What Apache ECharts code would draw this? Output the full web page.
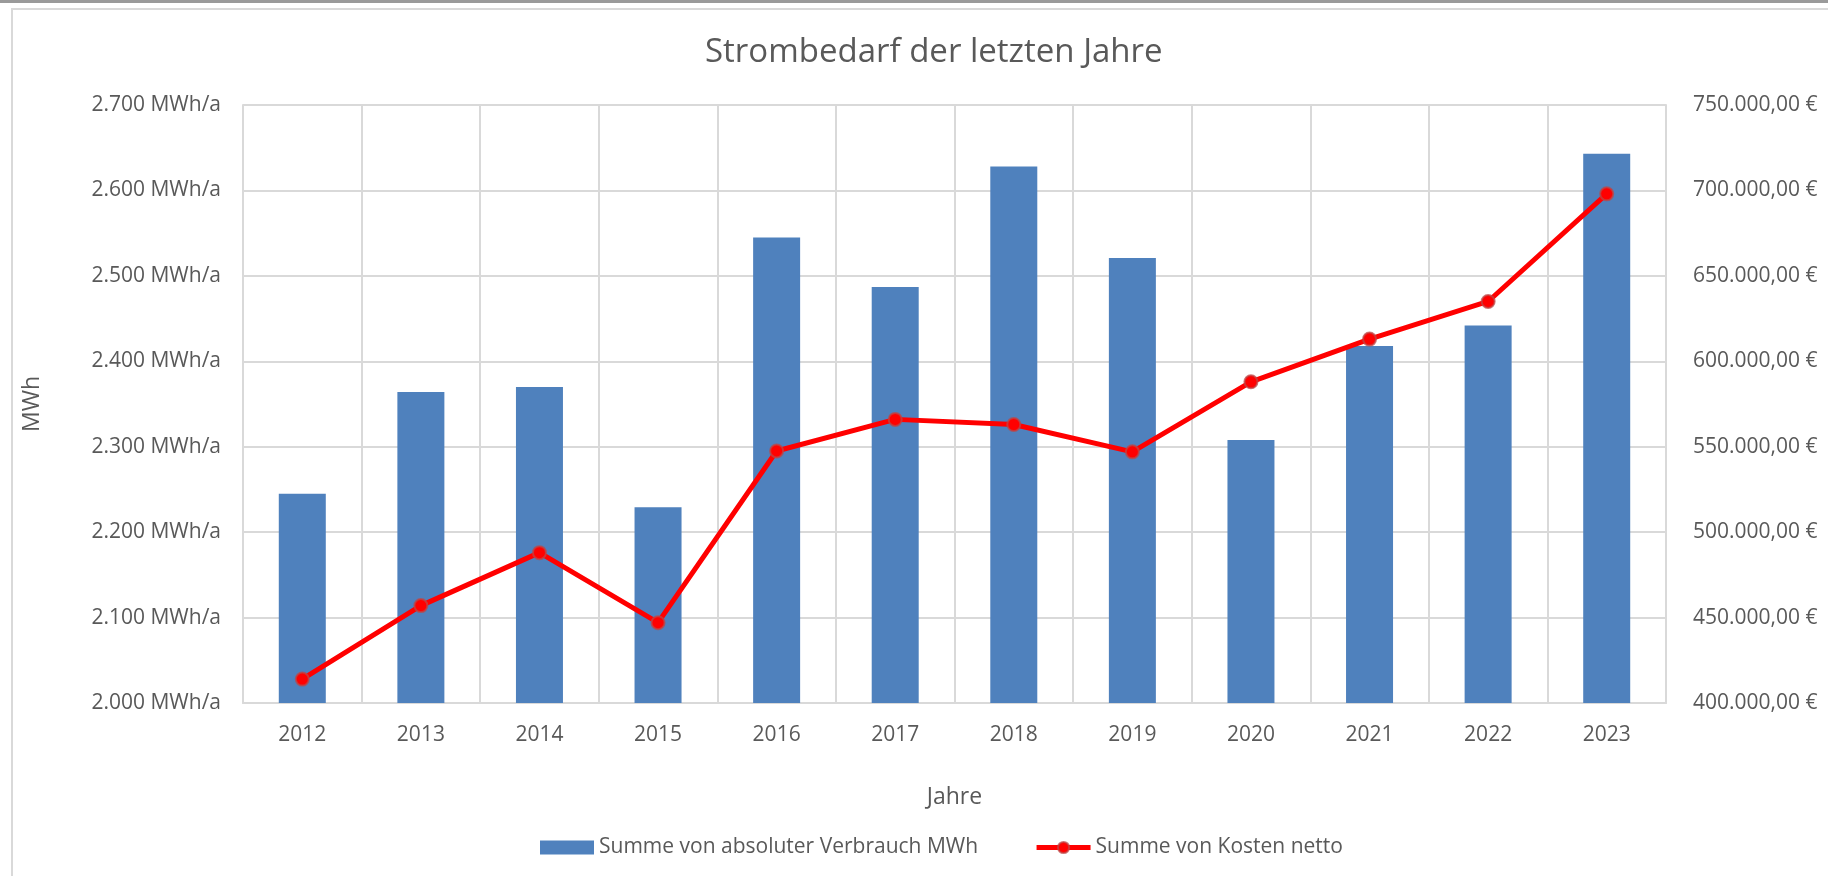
<!DOCTYPE html>
<html>
<head>
<meta charset="utf-8">
<script src="https://cdn.jsdelivr.net/npm/echarts@6/dist/echarts.min.js"></script>
<style>
  html, body { margin: 0; padding: 0; background: #ffffff; }
  #chart { width: 1828px; height: 876px; }
</style>
</head>
<body>
<div id="chart"></div>
<script>
// ---- data ----
const years = ['2012', '2013', '2014', '2015', '2016', '2017', '2018', '2019', '2020', '2021', '2022', '2023'];
const consumptionMWh = [2245, 2364, 2370, 2229, 2545, 2487, 2628, 2521, 2308, 2418, 2442, 2643];
const costsNet = [414000, 457000, 488000, 447000, 547500, 566000, 563000, 547000, 588000, 613000, 635000, 698000];
const seriesNames = ['Summe von absoluter Verbrauch MWh', 'Summe von Kosten netto'];
const titleText = 'Strombedarf der letzten Jahre';
const leftAxisName = 'MWh';
const bottomAxisName = 'Jahre';

function groupDots(intStr) {
  return intStr.replace(/\B(?=(\d{3})+(?!\d))/g, '.');
}
function fmtMWh(v) {
  return groupDots(String(Math.round(v))) + ' MWh/a';
}
function fmtEuro(v) {
  const fixed = v.toFixed(2);
  const parts = fixed.split('.');
  return groupDots(parts[0]) + ',' + parts[1] + '\u00A0€';
}

const FONT = '"Open Sans", sans-serif';
const GRAY = '#595959';
const GRID = '#d9d9d9';

const chart = echarts.init(document.getElementById('chart'), null, { renderer: 'canvas' });
chart.setOption({
  animation: false,
  backgroundColor: '#ffffff',
  textStyle: { fontFamily: FONT },
  title: {
    text: titleText,
    left: 700,
    top: 31,
    textStyle: { fontFamily: FONT, fontSize: 33, fontWeight: 'normal', color: GRAY }
  },
  graphic: [
    { type: 'rect', silent: true, z: -10, shape: { x: 0, y: 0, width: 1828, height: 3 }, style: { fill: '#9a9a9a' } },
    { type: 'rect', silent: true, z: -10, shape: { x: 12, y: 9, width: 1830, height: 880 }, style: { fill: 'none', stroke: '#d9d9d9', lineWidth: 2 } }
  ],
  legend: {
    data: [
      { name: seriesNames[0], icon: 'rect' },
      { name: seriesNames[1] }
    ],
    left: 535,
    top: 832,
    itemWidth: 54,
    itemHeight: 14,
    itemGap: 56,
    lineStyle: { width: 5 },
    textStyle: { fontFamily: FONT, fontSize: 21, color: GRAY }
  },
  grid: { left: 243, right: 162, top: 105, bottom: 173, containLabel: false },
  xAxis: {
    type: 'category',
    data: years,
    boundaryGap: true,
    name: bottomAxisName,
    nameLocation: 'middle',
    nameGap: 83,
    nameTextStyle: { fontFamily: FONT, fontSize: 23, color: GRAY },
    axisLine: { show: true, lineStyle: { color: GRID, width: 2 } },
    axisTick: { show: false },
    axisLabel: { color: GRAY, fontSize: 21, margin: 22, fontFamily: FONT },
    splitLine: { show: true, lineStyle: { color: GRID, width: 2 } }
  },
  yAxis: [
    {
      type: 'value',
      min: 2000,
      max: 2700,
      interval: 100,
      name: leftAxisName,
      nameLocation: 'middle',
      nameGap: 199,
      nameRotate: 90,
      nameTextStyle: { fontFamily: FONT, fontSize: 23, color: GRAY },
      axisLine: { show: true, lineStyle: { color: GRID, width: 2 } },
      axisTick: { show: false },
      axisLabel: { color: GRAY, fontSize: 21, margin: 22, fontFamily: FONT, formatter: fmtMWh },
      splitLine: { show: true, lineStyle: { color: GRID, width: 2 } }
    },
    {
      type: 'value',
      min: 400000,
      max: 750000,
      interval: 50000,
      position: 'right',
      axisLine: { show: true, lineStyle: { color: GRID, width: 2 } },
      axisTick: { show: false },
      axisLabel: { color: GRAY, fontSize: 21, margin: 27, fontFamily: FONT, formatter: fmtEuro },
      splitLine: { show: false }
    }
  ],
  series: [
    {
      name: seriesNames[0],
      type: 'bar',
      data: consumptionMWh,
      yAxisIndex: 0,
      barWidth: 47,
      itemStyle: { color: '#4f81bd' },
      z: 2
    },
    {
      name: seriesNames[1],
      type: 'line',
      data: costsNet,
      yAxisIndex: 1,
      symbol: 'circle',
      symbolSize: 13,
      lineStyle: { color: '#ff0000', width: 5 },
      itemStyle: { color: '#ff0000', borderColor: 'rgba(190,70,70,0.75)', borderWidth: 2 },
      z: 3
    }
  ]
});
</script>
</body>
</html>
